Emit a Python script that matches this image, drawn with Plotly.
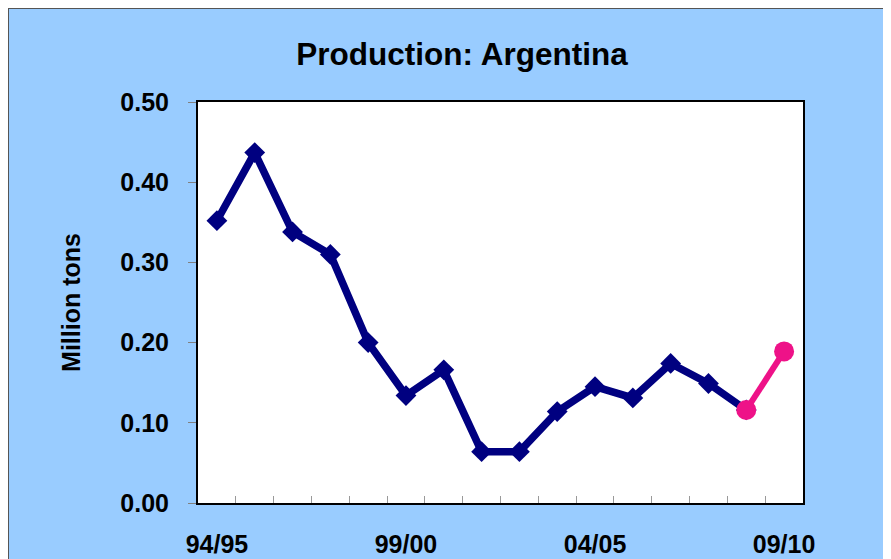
import plotly.graph_objects as go

categories = ["94/95", "95/96", "96/97", "97/98", "98/99", "99/00", "00/01", "01/02",
              "02/03", "03/04", "04/05", "05/06", "06/07", "07/08", "08/09", "09/10"]
production = [0.352, 0.437, 0.338, 0.310, 0.200, 0.134, 0.166, 0.064,
              0.064, 0.114, 0.145, 0.131, 0.174, 0.149, 0.116, None]
forecast_cats = ["08/09", "09/10"]
forecast = [0.116, 0.189]
tick_labels = ["94/95", "99/00", "04/05", "09/10"]

idx = {c: i for i, c in enumerate(categories)}
hx = [idx[c] for c, v in zip(categories, production) if v is not None]
hy = [v for v in production if v is not None]
fx = [idx[c] for c in forecast_cats]

FONT = "Liberation Sans, Arial, sans-serif"
W, H = 891, 559
L, T = 190, 94
pw, ph = 605, 401
R = W - L - pw
B = H - T - ph

def px_x(p):
    return (p - L) / pw

def px_y(p):
    return (H - B - p) / ph

fig = go.Figure()
fig.add_trace(go.Scatter(x=hx, y=hy, mode="lines+markers",
                         line=dict(color="#000080", width=7.5),
                         marker=dict(symbol="diamond", size=16, color="#000080"),
                         showlegend=False, cliponaxis=False))
fig.add_trace(go.Scatter(x=fx, y=forecast, mode="lines+markers",
                         line=dict(color="#EE1288", width=6),
                         marker=dict(symbol="circle", size=20, color="#EE1288"),
                         showlegend=False, cliponaxis=False))

fig.update_layout(
    width=W, height=H,
    margin=dict(l=L, r=R, t=T, b=B, autoexpand=False),
    paper_bgcolor="#99CCFF",
    plot_bgcolor="white",
    font=dict(family=FONT, color="black"),
    title=dict(text="Production: Argentina", xref="container", x=454 / W,
               xanchor="center", yref="container", y=1 - 46 / H, yanchor="middle",
               font=dict(size=31.5, color="black", weight="bold")),
    shapes=[
        dict(type="line", xref="paper", yref="paper",
             x0=px_x(0.5), x1=px_x(0.5), y0=px_y(0), y1=px_y(H + 20),
             line=dict(color="#555555", width=1)),
        dict(type="line", xref="paper", yref="paper",
             x0=px_x(0), x1=px_x(W + 20), y0=px_y(0.5), y1=px_y(0.5),
             line=dict(color="#555555", width=1)),
    ],
)

fig.update_xaxes(
    range=[-0.5, len(categories) - 0.5],
    tickmode="array",
    tickvals=[idx[c] for c in tick_labels],
    ticktext=tick_labels,
    ticks="",
    ticklabelstandoff=18,
    tickfont=dict(size=25, family=FONT, weight="bold"),
    showgrid=False, zeroline=False, automargin=False,
    showline=True, linecolor="black", linewidth=2, mirror=True,
    minor=dict(tickmode="array", tickvals=[i + 0.5 for i in range(len(categories) - 1)],
               ticks="inside", ticklen=7, tickcolor="#999999", tickwidth=1, showgrid=False),
)
fig.update_yaxes(
    range=[0, 0.5],
    tickmode="linear", tick0=0, dtick=0.1, tickformat=".2f",
    ticks="outside", ticklen=8, tickcolor="#808080", tickwidth=1,
    ticklabelstandoff=14,
    tickfont=dict(size=25, family=FONT, weight="bold"),
    showgrid=False, zeroline=False, automargin=False,
    showline=True, linecolor="black", linewidth=2, mirror=True,
    title=dict(text="Million tons", font=dict(size=25, weight="bold"), standoff=33),
)

fig.write_html("out.html")
